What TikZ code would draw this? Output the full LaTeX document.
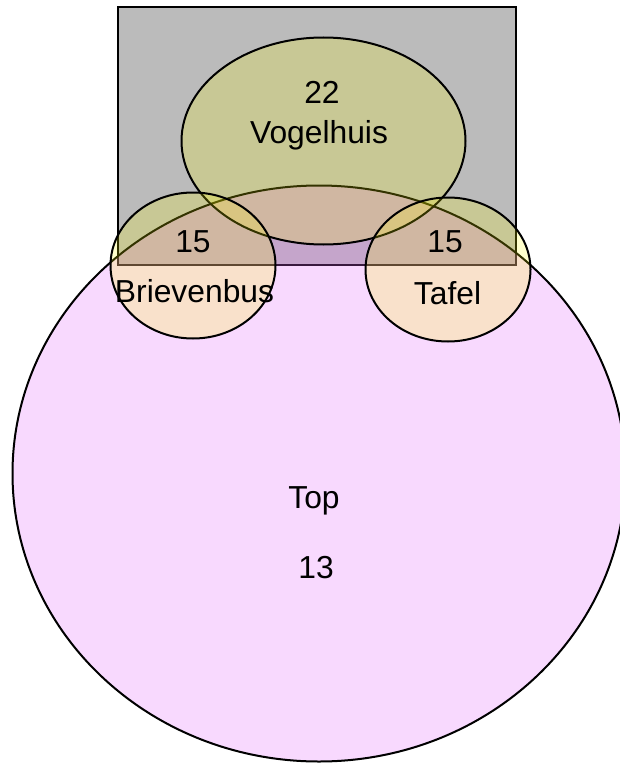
\documentclass[tikz,border=0pt]{standalone}
\usepackage{fontspec}
\setmainfont{Liberation Sans}
\usetikzlibrary{shapes.geometric}
\definecolor{boxgray}{RGB}{187,187,187}
\definecolor{toppink}{RGB}{227,103,251}
\definecolor{vennyellow}{RGB}{255,255,0}
\tikzset{
  venn/.style={ellipse, draw=black, line width=2pt, inner sep=0pt},
  topset/.style={venn, fill=toppink, fill opacity=0.25},
  yellowset/.style={venn, fill=vennyellow, fill opacity=0.2},
  graybox/.style={rectangle, draw=black, line width=2pt, fill=boxgray, inner sep=0pt},
  lbl/.style={anchor=base, inner sep=0pt, font=\fontsize{31.8}{36}\selectfont}
}
\begin{document}
\begin{tikzpicture}[x=1pt,y=-1pt]
\useasboundingbox (0,0) rectangle (619,765);
\node[graybox, minimum width=398pt, minimum height=257pt] (box) at (316.5,136) {};
\node[topset, minimum width=613pt, minimum height=576pt] (top) at (319,473.5) {};
\node[yellowset, minimum width=284pt, minimum height=207pt] (vogel) at (323.5,141) {};
\node[yellowset, minimum width=165pt, minimum height=146pt] (brief) at (193,265.5) {};
\node[yellowset, minimum width=165pt, minimum height=144pt] (tafel) at (448,269.5) {};
\node[lbl] (vnum) at (322,103) {22};
\node[lbl] (vname) at (319,143) {Vogelhuis};
\node[lbl] (bnum) at (193,252) {15};
\node[lbl] (bname) at (194.5,302) {Brievenbus};
\node[lbl] (tnum) at (445,252) {15};
\node[lbl] (tname) at (447.5,304) {Tafel};
\node[lbl] (topname) at (314,508) {Top};
\node[lbl] (topnum) at (316,578) {13};
\end{tikzpicture}
\end{document}
